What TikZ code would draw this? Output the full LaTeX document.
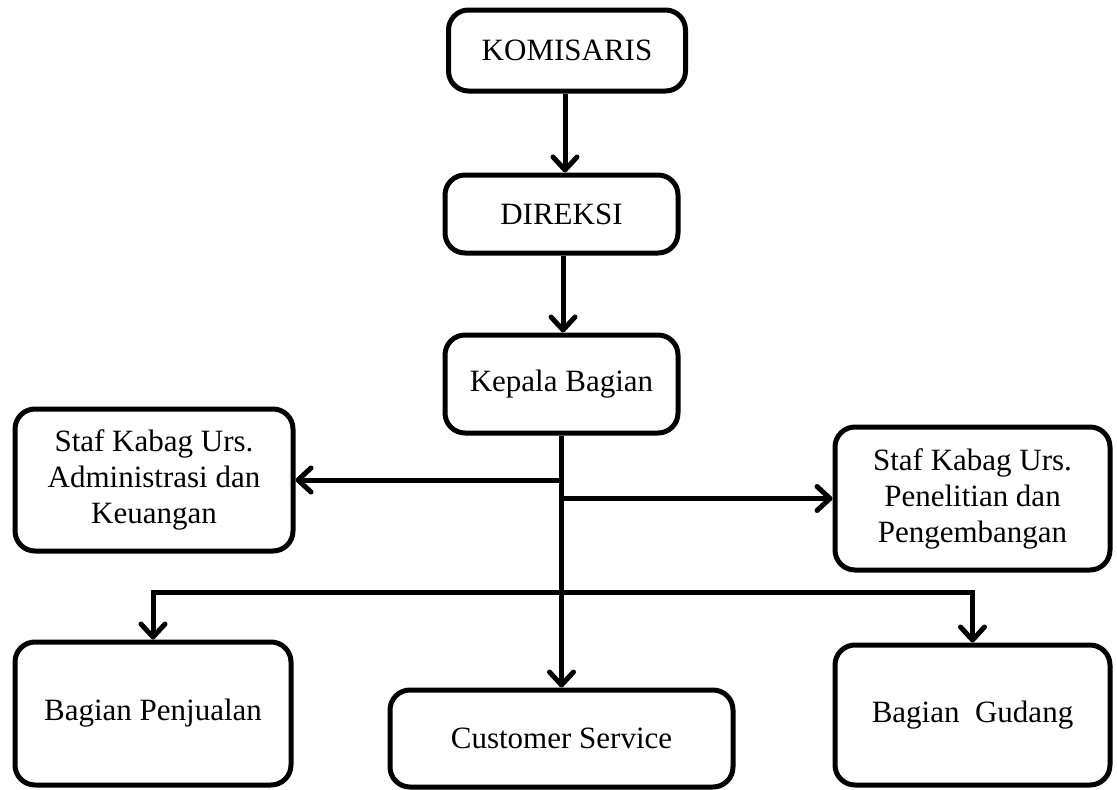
\documentclass[tikz,border=0pt]{standalone}
\usepackage{fontspec}
\setmainfont{Liberation Serif}
\usetikzlibrary{arrows.meta}
\begin{document}
\begin{tikzpicture}[x=1pt,y=-1pt,
  box/.style={draw=black, line width=5pt, rounded corners=20pt, fill=white,
    align=center, inner sep=0pt, font=\fontsize{31}{36}\selectfont},
  conn/.style={line width=5pt, draw=black},
  arr/.style={conn, -{Straight Barb[length=13pt, width=24pt, line cap=round, line join=round]}}]
\useasboundingbox[fill=white] (0,0) rectangle (1117,790);
\node[box, minimum width=237pt, minimum height=81pt] (kom) at (567,50.5) {KOMISARIS};
\node[box, minimum width=233pt, minimum height=78pt] (dir) at (561.5,214) {DIREKSI};
\node[box, minimum width=233pt, minimum height=98pt] (kep) at (561.5,384) {Kepala Bagian};
\node[box, minimum width=278pt, minimum height=142pt] (stafL) at (154,480) {Staf Kabag Urs.\\Administrasi dan\\Keuangan};
\node[box, minimum width=275pt, minimum height=143pt] (stafR) at (972.5,498.5) {Staf Kabag Urs.\\Penelitian dan\\Pengembangan};
\node[box, minimum width=276pt, minimum height=143pt] (penj) at (153,713.5) {Bagian Penjualan};
\node[box, minimum width=343pt, minimum height=97pt] (cs) at (561.5,738.5) {Customer Service};
\node[box, minimum width=275pt, minimum height=140pt] (gud) at (972.5,715) {Bagian~ Gudang};
\coordinate (bus) at (561.5,592);
\draw[arr] ([xshift=-2pt]kom.south) -- ([xshift=-2pt]kom.south |- dir.north);
\draw[arr] ([xshift=1.5pt]dir.south) -- ([xshift=1.5pt]dir.south |- kep.north);
\draw[arr] (kep.south) -- (cs.north);
\draw[arr] (kep.south |- stafL.east) -- (stafL.east);
\draw[arr] (kep.south |- stafR.west) -- (stafR.west);
\draw[arr] (bus) -| (penj.north);
\draw[arr] (bus) -| (gud.north);
\end{tikzpicture}
\end{document}
